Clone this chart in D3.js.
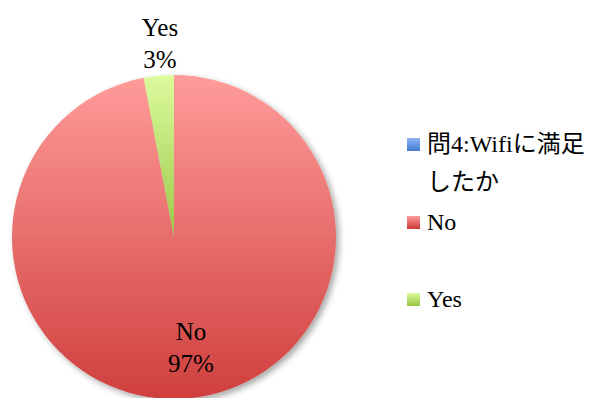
<!DOCTYPE html>
<html>
<head>
<meta charset="utf-8">
<script src="https://cdn.jsdelivr.net/npm/d3@7"></script>
<style>
  body { margin: 0; background: #fff; }
  text { font-family: "Liberation Serif", "Noto Sans CJK JP", serif; fill: #000; }
</style>
</head>
<body>
<div id="chart"></div>
<script>
// data
var categories = ["No", "Yes"];
var values = [97, 3];
var legendLabels = ["問4:Wifiに満足", "No", "Yes"];

var svgWidth = 610, svgHeight = 398;
var cx = 174, cy = 237, radius = 162;

var svg = d3.select("#chart").append("svg")
  .attr("width", svgWidth)
  .attr("height", svgHeight);

var defs = svg.append("defs");

function grad(id, top, bottom, y1, y2) {
  var g = defs.append("linearGradient")
    .attr("id", id)
    .attr("gradientUnits", "userSpaceOnUse")
    .attr("x1", 0).attr("x2", 0)
    .attr("y1", y1).attr("y2", y2);
  g.append("stop").attr("offset", "0%").attr("stop-color", top);
  g.append("stop").attr("offset", "100%").attr("stop-color", bottom);
}
grad("gNo", "#ff9c9a", "#cf3f3d", -radius, radius);
grad("gYes", "#dcfb9d", "#9bc84a", -radius, 0);

var f = defs.append("filter").attr("id", "shadow")
  .attr("x", "-10%").attr("y", "-10%").attr("width", "130%").attr("height", "130%");
f.append("feDropShadow").attr("dx", 3).attr("dy", 3).attr("stdDeviation", 3)
  .attr("flood-color", "#000").attr("flood-opacity", 0.35);

var pie = d3.pie().sort(null).value(d => d);
var arcs = pie(values);
var arc = d3.arc().innerRadius(0).outerRadius(radius);

var g = svg.append("g").attr("transform", `translate(${cx},${cy})`);

g.append("g").attr("filter", "url(#shadow)")
  .selectAll("path")
  .data(arcs)
  .enter()
  .append("path")
  .attr("d", arc)
  .attr("fill", (d, i) => i == 0 ? "url(#gNo)" : "url(#gYes)");

// data labels
var labelPos = [[17, 103], [-14, -201]];
arcs.forEach(function(d, i) {
  var t = g.append("text")
    .attr("text-anchor", "middle")
    .attr("font-size", 25)
    .attr("x", labelPos[i][0])
    .attr("y", labelPos[i][1]);
  t.append("tspan").attr("x", labelPos[i][0]).attr("dy", 0).text(categories[i]);
  t.append("tspan").attr("x", labelPos[i][0]).attr("dy", 32).text(values[i] + "%");
});

// legend
var legendColors = [["#8fb4f5", "#4a7fd6"], ["#ff9c9a", "#cf3f3d"], ["#dcfb9d", "#9bc84a"]];
var legendY = [144, 222, 299];
legendColors.forEach(function(c, i) {
  grad("lg" + i, c[0], c[1], legendY[i] - 6, legendY[i] + 6);
});

var legend = svg.append("g");
legendLabels.forEach(function(name, i) {
  legend.append("rect")
    .attr("x", 407).attr("y", legendY[i] - 6)
    .attr("width", 13).attr("height", 13)
    .attr("fill", "url(#lg" + i + ")");
  var t = legend.append("text")
    .attr("x", 427).attr("y", legendY[i] + 8)
    .attr("font-size", 24)
    .text(name);
  if (i == 0) {
    legend.append("text")
      .attr("x", 427).attr("y", legendY[i] + 46)
      .attr("font-size", 24)
      .text("したか");
  }
});
</script>
</body>
</html>
